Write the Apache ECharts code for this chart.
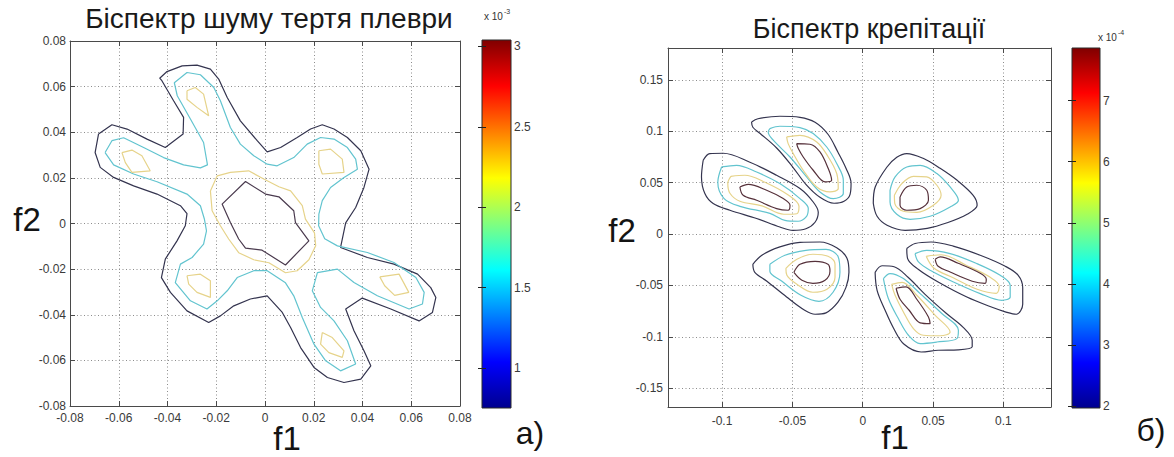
<!DOCTYPE html>
<html><head><meta charset="utf-8">
<script src="https://cdn.jsdelivr.net/npm/echarts@6/dist/echarts.min.js"></script>
<style>html,body{margin:0;padding:0;background:#fff}#c{width:1174px;height:457px}</style>
</head><body><div id="c"></div>
<script>
// ---------- Left plot: "Біспектр шуму тертя плеври" (f1, f2 in data units) ----------
const leftAxisRange = [-0.08, 0.08];
const leftTickStep = 0.02;
const leftOuter = [[-0.0683,0.0392],[-0.0628,0.0433],[-0.0566,0.0414],[-0.0484,0.0370],[-0.0409,0.0333],[-0.0336,0.0392],[-0.0334,0.0465],[-0.0375,0.0538],[-0.0423,0.0626],[-0.0432,0.0637],[-0.0402,0.0666],[-0.0340,0.0691],[-0.0279,0.0694],[-0.0224,0.0677],[-0.0190,0.0633],[-0.0155,0.0552],[-0.0101,0.0450],[-0.0032,0.0363],[0.0009,0.0314],[0.0064,0.0333],[0.0132,0.0377],[0.0187,0.0414],[0.0235,0.0433],[0.0283,0.0414],[0.0338,0.0377],[0.0393,0.0319],[0.0427,0.0238],[0.0406,0.0158],[0.0372,0.0070],[0.0331,0.0003],[0.0310,-0.0105],[0.0420,-0.0149],[0.0529,-0.0178],[0.0626,-0.0222],[0.0680,-0.0281],[0.0701,-0.0324],[0.0687,-0.0390],[0.0632,-0.0427],[0.0516,-0.0375],[0.0399,-0.0327],[0.0331,-0.0375],[0.0365,-0.0470],[0.0406,-0.0558],[0.0434,-0.0624],[0.0393,-0.0682],[0.0324,-0.0697],[0.0256,-0.0675],[0.0201,-0.0631],[0.0146,-0.0544],[0.0105,-0.0456],[0.0071,-0.0390],[0.0009,-0.0317],[-0.0060,-0.0331],[-0.0128,-0.0361],[-0.0183,-0.0405],[-0.0231,-0.0434],[-0.0320,-0.0383],[-0.0388,-0.0302],[-0.0425,-0.0237],[-0.0409,-0.0156],[-0.0361,-0.0076],[-0.0327,-0.0010],[-0.0320,0.0043],[-0.0347,0.0078],[-0.0443,0.0129],[-0.0539,0.0165],[-0.0621,0.0202],[-0.0676,0.0246],[-0.0697,0.0311]];
const leftMid = [[-0.0656,0.0311],[-0.0628,0.0363],[-0.0580,0.0376],[-0.0498,0.0333],[-0.0416,0.0289],[-0.0334,0.0257],[-0.0265,0.0244],[-0.0236,0.0257],[-0.0252,0.0355],[-0.0306,0.0458],[-0.0360,0.0560],[-0.0372,0.0617],[-0.0320,0.0662],[-0.0265,0.0652],[-0.0210,0.0596],[-0.0183,0.0538],[-0.0142,0.0421],[-0.0101,0.0348],[-0.0046,0.0297],[0.0009,0.0260],[0.0050,0.0253],[0.0118,0.0289],[0.0173,0.0348],[0.0228,0.0377],[0.0283,0.0370],[0.0338,0.0333],[0.0372,0.0282],[0.0379,0.0238],[0.0324,0.0202],[0.0269,0.0158],[0.0235,0.0100],[0.0221,0.0041],[0.0220,-0.0010],[0.0245,-0.0067],[0.0297,-0.0098],[0.0420,-0.0127],[0.0529,-0.0171],[0.0619,-0.0237],[0.0653,-0.0302],[0.0646,-0.0353],[0.0591,-0.0375],[0.0461,-0.0317],[0.0365,-0.0259],[0.0297,-0.0200],[0.0215,-0.0215],[0.0194,-0.0295],[0.0228,-0.0368],[0.0283,-0.0427],[0.0338,-0.0514],[0.0372,-0.0616],[0.0310,-0.0646],[0.0249,-0.0602],[0.0201,-0.0529],[0.0153,-0.0412],[0.0118,-0.0317],[0.0084,-0.0260],[0.0009,-0.0207],[-0.0046,-0.0207],[-0.0114,-0.0237],[-0.0155,-0.0295],[-0.0196,-0.0339],[-0.0238,-0.0375],[-0.0306,-0.0339],[-0.0368,-0.0259],[-0.0347,-0.0178],[-0.0299,-0.0149],[-0.0252,-0.0090],[-0.0240,-0.0032],[-0.0249,0.0021],[-0.0265,0.0078],[-0.0320,0.0129],[-0.0443,0.0183],[-0.0539,0.0217],[-0.0621,0.0257]];
const leftRing = [[-0.0224,0.0143],[-0.0196,0.0209],[-0.0142,0.0224],[-0.0067,0.0231],[-0.0005,0.0195],[0.0057,0.0161],[0.0105,0.0143],[0.0153,0.0078],[0.0166,0.0019],[0.0203,-0.0041],[0.0208,-0.0098],[0.0180,-0.0159],[0.0132,-0.0207],[0.0084,-0.0216],[0.0016,-0.0172],[-0.0046,-0.0159],[-0.0108,-0.0128],[-0.0149,-0.0068],[-0.0183,-0.0010],[-0.0217,0.0056]];
const leftCore = [[-0.0080,0.0184],[0.0002,0.0129],[0.0057,0.0117],[0.0118,0.0056],[0.0125,0.0004],[0.0180,-0.0076],[0.0084,-0.0182],[-0.0012,-0.0117],[-0.0080,-0.0108],[-0.0108,-0.0068],[-0.0142,0.0004],[-0.0176,0.0085]];
const leftPeak1 = [[-0.0320,0.0582],[-0.0286,0.0596],[-0.0252,0.0567],[-0.0231,0.0472],[-0.0279,0.0509],[-0.0320,0.0545]];
const leftPeak2 = [[-0.0587,0.0311],[-0.0546,0.0322],[-0.0505,0.0297],[-0.0471,0.0231],[-0.0546,0.0224],[-0.0573,0.0267]];
const leftPeak3 = [[0.0221,0.0319],[0.0269,0.0326],[0.0317,0.0282],[0.0324,0.0224],[0.0235,0.0217],[0.0221,0.0260]];
const leftPeak4 = [[0.0471,-0.0234],[0.0550,-0.0222],[0.0590,-0.0302],[0.0532,-0.0315],[0.0491,-0.0273]];
const leftPeak5 = [[0.0235,-0.0478],[0.0276,-0.0500],[0.0324,-0.0558],[0.0317,-0.0587],[0.0262,-0.0566],[0.0228,-0.0529]];
const leftPeak6 = [[-0.0320,-0.0229],[-0.0265,-0.0222],[-0.0224,-0.0251],[-0.0224,-0.0324],[-0.0279,-0.0302],[-0.0313,-0.0266]];
const leftColorRange = [0.752, 3.04];       // x 10^-3
const leftColorTicks = [1, 1.5, 2, 2.5, 3];

// ---------- Right plot: "Біспектр крепітації" ----------
const rightXRange = [-0.1384, 0.1338];
const rightYRange = [-0.1683, 0.1809];
const rightXTicks = [-0.1, -0.05, 0, 0.05, 0.1];
const rightYTicks = [-0.15, -0.1, -0.05, 0, 0.05, 0.1, 0.15];
const blobA1 = [[-0.1134,0.0717],[-0.1087,0.0782],[-0.0992,0.0785],[-0.0802,0.0698],[-0.0612,0.0571],[-0.0446,0.0442],[-0.0352,0.0311],[-0.0316,0.0211],[-0.0339,0.0114],[-0.0404,0.0051],[-0.0496,0.0036],[-0.0589,0.0068],[-0.0754,0.0150],[-0.0944,0.0231],[-0.1063,0.0296],[-0.1122,0.0393],[-0.1146,0.0555]];
const blobA2 = [[-0.1003,0.0652],[-0.0897,0.0668],[-0.0754,0.0603],[-0.0589,0.0490],[-0.0446,0.0344],[-0.0387,0.0247],[-0.0399,0.0172],[-0.0460,0.0124],[-0.0553,0.0133],[-0.0660,0.0201],[-0.0873,0.0269],[-0.0987,0.0347],[-0.1030,0.0503]];
const blobA3 = [[-0.0937,0.0561],[-0.0838,0.0571],[-0.0695,0.0503],[-0.0532,0.0381],[-0.0453,0.0269],[-0.0468,0.0197],[-0.0560,0.0192],[-0.0717,0.0274],[-0.0873,0.0318],[-0.0944,0.0396],[-0.0959,0.0493]];
const blobA4 = [[-0.0873,0.0457],[-0.0814,0.0483],[-0.0683,0.0425],[-0.0565,0.0344],[-0.0517,0.0279],[-0.0530,0.0231],[-0.0612,0.0247],[-0.0754,0.0328],[-0.0850,0.0376]];
const blobB1 = [[-0.0790,0.1090],[-0.0745,0.1121],[-0.0589,0.1145],[-0.0446,0.1135],[-0.0339,0.1087],[-0.0247,0.0970],[-0.0176,0.0795],[-0.0119,0.0639],[-0.0083,0.0493],[-0.0090,0.0386],[-0.0133,0.0318],[-0.0204,0.0299],[-0.0304,0.0357],[-0.0404,0.0483],[-0.0496,0.0649],[-0.0610,0.0834],[-0.0731,0.0980],[-0.0781,0.1038]];
const blobB2 = [[-0.0660,0.1025],[-0.0589,0.1048],[-0.0446,0.1035],[-0.0352,0.0977],[-0.0256,0.0846],[-0.0185,0.0685],[-0.0138,0.0522],[-0.0138,0.0393],[-0.0209,0.0344],[-0.0304,0.0409],[-0.0399,0.0555],[-0.0517,0.0749],[-0.0636,0.0912],[-0.0672,0.0992]];
const blobB3 = [[-0.0541,0.0944],[-0.0446,0.0960],[-0.0327,0.0895],[-0.0245,0.0749],[-0.0185,0.0588],[-0.0174,0.0442],[-0.0233,0.0409],[-0.0327,0.0457],[-0.0423,0.0620],[-0.0494,0.0782],[-0.0530,0.0879]];
const blobB4 = [[-0.0470,0.0879],[-0.0375,0.0873],[-0.0304,0.0798],[-0.0245,0.0636],[-0.0221,0.0522],[-0.0268,0.0506],[-0.0352,0.0620],[-0.0423,0.0749],[-0.0458,0.0831]];
const blobC1 = [[0.0075,0.0299],[0.0088,0.0454],[0.0171,0.0649],[0.0242,0.0746],[0.0313,0.0782],[0.0429,0.0736],[0.0550,0.0639],[0.0671,0.0522],[0.0785,0.0376],[0.0813,0.0279],[0.0742,0.0192],[0.0600,0.0109],[0.0458,0.0055],[0.0301,0.0036],[0.0173,0.0085],[0.0102,0.0172]];
const blobC2 = [[0.0194,0.0425],[0.0230,0.0555],[0.0313,0.0652],[0.0408,0.0668],[0.0527,0.0588],[0.0621,0.0457],[0.0680,0.0328],[0.0621,0.0263],[0.0479,0.0172],[0.0337,0.0143],[0.0242,0.0192],[0.0194,0.0311]];
const blobC3 = [[0.0225,0.0376],[0.0278,0.0490],[0.0360,0.0561],[0.0455,0.0555],[0.0527,0.0474],[0.0557,0.0376],[0.0502,0.0279],[0.0384,0.0210],[0.0289,0.0221],[0.0228,0.0295]];
const blobC4 = [[0.0265,0.0360],[0.0313,0.0457],[0.0384,0.0474],[0.0455,0.0425],[0.0467,0.0328],[0.0408,0.0247],[0.0313,0.0231],[0.0265,0.0279]];
const blobD1 = [[-0.0781,-0.0295],[-0.0717,-0.0207],[-0.0589,-0.0126],[-0.0446,-0.0081],[-0.0304,-0.0078],[-0.0185,-0.0134],[-0.0112,-0.0236],[-0.0098,-0.0373],[-0.0119,-0.0519],[-0.0176,-0.0664],[-0.0261,-0.0767],[-0.0339,-0.0781],[-0.0418,-0.0737],[-0.0541,-0.0613],[-0.0681,-0.0460],[-0.0767,-0.0373]];
const blobD2 = [[-0.0660,-0.0295],[-0.0553,-0.0207],[-0.0404,-0.0159],[-0.0261,-0.0149],[-0.0176,-0.0217],[-0.0162,-0.0373],[-0.0211,-0.0567],[-0.0311,-0.0655],[-0.0439,-0.0596],[-0.0574,-0.0460],[-0.0660,-0.0363]];
const blobD3 = [[-0.0546,-0.0334],[-0.0468,-0.0246],[-0.0354,-0.0197],[-0.0247,-0.0217],[-0.0197,-0.0295],[-0.0197,-0.0421],[-0.0254,-0.0538],[-0.0354,-0.0567],[-0.0468,-0.0489],[-0.0539,-0.0402]];
const blobD4 = [[-0.0489,-0.0373],[-0.0446,-0.0295],[-0.0339,-0.0266],[-0.0247,-0.0295],[-0.0233,-0.0363],[-0.0268,-0.0450],[-0.0354,-0.0480],[-0.0432,-0.0450]];
const blobE1 = [[0.0088,-0.0373],[0.0137,-0.0309],[0.0223,-0.0319],[0.0322,-0.0421],[0.0443,-0.0587],[0.0593,-0.0771],[0.0714,-0.0908],[0.0778,-0.1034],[0.0778,-0.1097],[0.0678,-0.1127],[0.0536,-0.1131],[0.0415,-0.1148],[0.0294,-0.1073],[0.0223,-0.0927],[0.0159,-0.0742],[0.0102,-0.0548]];
const blobE2 = [[0.0147,-0.0434],[0.0194,-0.0385],[0.0289,-0.0434],[0.0408,-0.0580],[0.0562,-0.0774],[0.0680,-0.0937],[0.0669,-0.1018],[0.0527,-0.1051],[0.0408,-0.1066],[0.0325,-0.0985],[0.0253,-0.0823],[0.0182,-0.0628]];
const blobE3 = [[0.0205,-0.0490],[0.0280,-0.0470],[0.0384,-0.0596],[0.0515,-0.0791],[0.0621,-0.0953],[0.0550,-0.0990],[0.0431,-0.0985],[0.0360,-0.0920],[0.0289,-0.0759],[0.0230,-0.0596]];
const blobE4 = [[0.0237,-0.0528],[0.0308,-0.0514],[0.0384,-0.0635],[0.0467,-0.0807],[0.0479,-0.0872],[0.0408,-0.0864],[0.0330,-0.0742],[0.0265,-0.0635]];
const blobF1 = [[0.0313,-0.0142],[0.0372,-0.0093],[0.0486,-0.0078],[0.0643,-0.0118],[0.0835,-0.0207],[0.1013,-0.0314],[0.1105,-0.0402],[0.1137,-0.0523],[0.1137,-0.0684],[0.1091,-0.0781],[0.1013,-0.0757],[0.0929,-0.0718],[0.0740,-0.0613],[0.0536,-0.0467],[0.0394,-0.0343],[0.0319,-0.0239]];
const blobF2 = [[0.0372,-0.0191],[0.0455,-0.0159],[0.0621,-0.0191],[0.0811,-0.0288],[0.0977,-0.0402],[0.1048,-0.0499],[0.1048,-0.0613],[0.0989,-0.0645],[0.0835,-0.0580],[0.0645,-0.0467],[0.0479,-0.0353],[0.0396,-0.0272]];
const blobF3 = [[0.0451,-0.0217],[0.0557,-0.0202],[0.0735,-0.0304],[0.0906,-0.0421],[0.0970,-0.0509],[0.0949,-0.0577],[0.0813,-0.0538],[0.0643,-0.0426],[0.0507,-0.0334]];
const blobF4 = [[0.0515,-0.0246],[0.0550,-0.0222],[0.0678,-0.0285],[0.0835,-0.0382],[0.0878,-0.0441],[0.0870,-0.0480],[0.0778,-0.0460],[0.0621,-0.0370],[0.0536,-0.0314]];
const rightColorRange = [1.97, 7.86];      // x 10^-4
const rightColorTicks = [2, 3, 4, 5, 6, 7];

// ---------- styling ----------
const FONT = '"Liberation Sans", Arial, sans-serif';
const AXC = '#4a4a4a';
const GRIDC = '#8c8c8c';
const C_DARK = '#34344f', C_CYAN = '#62c4cf', C_YEL = '#e6d38a', C_CORE_L = '#4a3a4e', C_CORE_R = '#56313b';
const JET = [
  {offset:0, color:'#00008f'},{offset:0.125, color:'#0000ff'},{offset:0.375, color:'#00ffff'},
  {offset:0.625, color:'#ffff00'},{offset:0.875, color:'#ff0000'},{offset:1, color:'#800000'}];

const fmt = v => String(Math.round(v * 1000) / 1000);

function plotAxis(dim, gi, range, opts) {
  const o = {
    type:'value', gridIndex:gi, min:range[0], max:range[1], position:opts.pos, z:3,
    axisLine:{show:true, onZero:false, lineStyle:{color:AXC, width:1}},
    axisTick:{show:true, inside:true, length:5, lineStyle:{color:AXC}},
    axisLabel:{show:!!opts.labels, color:'#3a3a3a', fontSize:12, fontFamily:FONT, margin:opts.margin || 6, formatter:fmt, hideOverlap:false, showMinLabel:true, showMaxLabel:true},
    splitLine:{show:!!opts.labels, lineStyle:{color:GRIDC, type:[1,2.5], width:1}}
  };
  if (opts.step) o.interval = opts.step;
  if (opts.ticks) { o.axisTick.customValues = opts.ticks; o.axisLabel.customValues = opts.ticks; }
  return o;
}
function cbAxis(gi, range, ticks, pos, labels) {
  return {
    type:'value', gridIndex:gi, min:range[0], max:range[1], position:pos, z:5,
    axisLine:{show:false},
    axisTick:{show:true, inside:true, length:4, customValues:ticks, lineStyle:{color:'#222'}},
    axisLabel:{show:labels, customValues:ticks, color:'#3a3a3a', fontSize:12, fontFamily:FONT, margin:3, formatter:fmt},
    splitLine:{show:false}
  };
}
function loop(data, color, xi, yi, smooth, width) {
  return {type:'line', xAxisIndex:xi, yAxisIndex:yi, data:data.concat([data[0]]), symbol:'none',
    smooth:smooth, silent:true, animation:false, z:4,
    lineStyle:{color:color, width:width || 1.2}};
}
function colorbar(xi, yi, range) {
  return {type:'custom', xAxisIndex:xi, yAxisIndex:yi, silent:true, animation:false, z:2,
    data:[[0, range[0], 1, range[1]]],
    renderItem:(params, api) => {
      const a = api.coord([api.value(0), api.value(1)]);
      const b = api.coord([api.value(2), api.value(3)]);
      return {type:'rect', shape:{x:a[0], y:b[1], width:b[0]-a[0], height:a[1]-b[1]},
        style:{fill:{type:'linear', x:0, y:1, x2:0, y2:0, colorStops:JET}, stroke:'#2a2a2a', lineWidth:1}};
    }};
}

const series = [];
series.push(loop(leftOuter, C_DARK, 0, 0, false));
series.push(loop(leftMid, C_CYAN, 0, 0, false));
series.push(loop(leftRing, C_YEL, 0, 0, false));
series.push(loop(leftCore, C_CORE_L, 0, 0, false));
[leftPeak1, leftPeak2, leftPeak3, leftPeak4, leftPeak5, leftPeak6].forEach(p => series.push(loop(p, C_YEL, 0, 0, false)));
series.push(colorbar(2, 2, leftColorRange));
const blobs = [[blobA1,blobA2,blobA3,blobA4],[blobB1,blobB2,blobB3,blobB4],[blobC1,blobC2,blobC3,blobC4],
               [blobD1,blobD2,blobD3,blobD4],[blobE1,blobE2,blobE3,blobE4],[blobF1,blobF2,blobF3,blobF4]];
const blobColors = [C_DARK, C_CYAN, C_YEL, C_CORE_R];
blobs.forEach(b => b.forEach((lv, i) => series.push(loop(lv, blobColors[i], 3, 4, 0.35))));
series.push(colorbar(5, 6, rightColorRange));

function txt(x, y, s, size, extra) {
  return Object.assign({type:'text', x:x, y:y, silent:true,
    style:Object.assign({text:s, fontSize:size, fontFamily:FONT, fill:'#141414', align:'center', verticalAlign:'middle', textAlign:'center', textVerticalAlign:'middle'}, extra || {})});
}

const option = {
  backgroundColor:'#ffffff',
  animation:false,
  title:[
    {text:'Біспектр шуму тертя плеври', left:269, top:4, textAlign:'center', padding:0,
     textStyle:{fontSize:28, fontWeight:'normal', fontFamily:FONT, color:'#1a1a1a'}},
    {text:'Біспектр крепітації', left:869, top:15, textAlign:'center', padding:0,
     textStyle:{fontSize:27, fontWeight:'normal', fontFamily:FONT, color:'#1a1a1a'}}
  ],
  grid:[
    {left:70, top:41, width:390, height:365},
    {left:482, top:40, width:29, height:368},
    {left:668, top:48, width:383, height:359},
    {left:1072, top:48, width:28, height:360}
  ],
  xAxis:[
    plotAxis('x', 0, leftAxisRange, {pos:'bottom', labels:true, step:leftTickStep, margin:6}),
    plotAxis('x', 0, leftAxisRange, {pos:'top', labels:false, step:leftTickStep}),
    {type:'value', gridIndex:1, min:0, max:1, show:false},
    plotAxis('x', 2, rightXRange, {pos:'bottom', labels:true, ticks:rightXTicks, margin:8}),
    plotAxis('x', 2, rightXRange, {pos:'top', labels:false, ticks:rightXTicks}),
    {type:'value', gridIndex:3, min:0, max:1, show:false}
  ],
  yAxis:[
    plotAxis('y', 0, leftAxisRange, {pos:'left', labels:true, step:leftTickStep, margin:4}),
    plotAxis('y', 0, leftAxisRange, {pos:'right', labels:false, step:leftTickStep}),
    cbAxis(1, leftColorRange, leftColorTicks, 'right', true),
    cbAxis(1, leftColorRange, leftColorTicks, 'left', false),
    plotAxis('y', 2, rightYRange, {pos:'left', labels:true, ticks:rightYTicks, margin:5}),
    plotAxis('y', 2, rightYRange, {pos:'right', labels:false, ticks:rightYTicks}),
    cbAxis(3, rightColorRange, rightColorTicks, 'right', true),
    cbAxis(3, rightColorRange, rightColorTicks, 'left', false)
  ],
  series:series,
  graphic:[
    txt(27, 219, 'f2', 33),
    txt(287, 438, 'f1', 33),
    txt(530, 433, 'а)', 32),
    txt(622, 230, 'f2', 33),
    txt(895, 437, 'f1', 33),
    txt(1151, 430, 'б)', 32),
    txt(484, 16, 'x 10', 10, {align:'left', textAlign:'left', fill:'#333'}),
    txt(504, 11, '-3', 7, {align:'left', textAlign:'left', fill:'#333'}),
    txt(1098, 37, 'x 10', 10, {align:'left', textAlign:'left', fill:'#333'}),
    txt(1118, 32, '-4', 7, {align:'left', textAlign:'left', fill:'#333'})
  ]
};
const chart = echarts.init(document.getElementById('c'), null, {renderer:'svg', width:1174, height:457});
chart.setOption(option);
</script>
</body></html>
